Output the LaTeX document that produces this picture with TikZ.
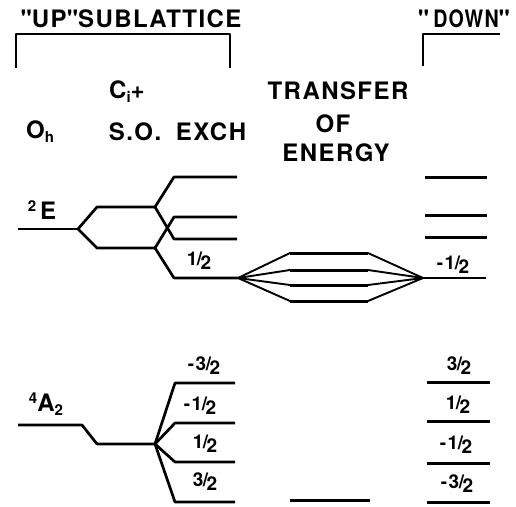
\documentclass[tikz,border=0pt]{standalone}
\usepackage{fontspec}
\setmainfont{TeX Gyre Heros}
\newcommand{\hf}[1]{#1\kern-0.5pt/\kern-1.5pt\raisebox{-4pt}{2}}
\newcommand{\lowx}[1]{\raisebox{-4pt}{\fontsize{15}{16}\selectfont #1}}
\newcommand{\highx}[1]{\raisebox{8pt}{\fontsize{15}{16}\selectfont #1}}
\begin{document}
\begin{tikzpicture}[x=1pt, y=-1pt,
    level/.style={line width=3pt},
    link/.style={line width=2.7pt, line join=round},
    fan/.style={line width=1.9pt, line join=round},
    lbl/.style={font=\bfseries\fontsize{24}{26}\selectfont\addfontfeature{LetterSpace=6}, inner sep=0pt},
    spin/.style={font=\bfseries\fontsize{19}{20}\selectfont\addfontfeature{LetterSpace=8}, inner sep=0pt}]
  \useasboundingbox (0,0) rectangle (516,506);
  % kopfzeilen
  \node[lbl] (up) at (131,19) {\textquotedbl UP\textquotedbl SUBLATTICE};
  \node[lbl] (down) at (464,19) {\textquotedbl\,\scalebox{0.82}[1]{DOWN}\textquotedbl};
  \draw[fan] (16,68) -- (16,34) -- (230,34) -- (230,68);
  \draw[fan] (423,66) -- (423,34) -- (500,34);
  \node[lbl] (ci) at (127,92) {C\lowx{i}+};
  \node[lbl] (oh) at (40,132) {O\lowx{h}};
  \node[lbl] (so) at (135,132) {S.O.};
  \node[lbl] (exch) at (211,132) {EXCH};
  \node[lbl] (tr) at (338,91) {TRANSFER};
  \node[lbl] (of) at (333,124) {OF};
  \node[lbl] (en) at (336,153) {ENERGY};
  % oberer zustand 2E
  \coordinate (e0) at (18,229);
  \coordinate (e1) at (78,229);
  \coordinate (a1) at (155,207);
  \coordinate (a2) at (155,248);
  \coordinate (t0) at (238,278);
  \coordinate (t1) at (423,278);
  \node[lbl] (lE) at (42,210) {\highx{2}\,E};
  \draw[link] (e0) -- (e1);
  \draw[link] (e1) -- (97,207) -- (a1);
  \draw[link] (e1) -- (97,248) -- (a2);
  \draw[link] (a1) -- (174,177) -- (237,177);
  \draw[link] (a1) -- (174,239) -- (237,239);
  \draw[link] (a2) -- (174,217) -- (237,217);
  \draw[link] (a2) -- (174,278) -- (t0);
  \node[spin] (h1) at (199,261) {\hf{1}};
  % energieuebertrag
  \foreach \y in {253,270,285,301} {
    \draw[fan] (t0) -- (290,\y) (368,\y) -- (t1);
    \draw[level] (290,\y) -- (368,\y);
  }
  \draw[link] (t1) -- (486,278);
  \node[spin] (h2) at (453,265) {\hf{-1}};
  \foreach \y in {177,215,237}
    \draw[level] (425,\y) -- (487,\y);
  % grundzustand 4A2
  \coordinate (g0) at (18,425);
  \coordinate (q) at (155,444);
  \node[lbl] (lA) at (46,404) {\highx{4}A\lowx{2}};
  \draw[link] (g0) -- (82,425) -- (97,444) -- (q);
  \foreach \y in {383,423,462,502}
    \draw[link] (q) -- (175,\y) -- (235,\y);
  \node[spin] (m3) at (204,366) {\hf{-3}};
  \node[spin] (m1) at (200,406) {\hf{-1}};
  \node[spin] (p1) at (205,444) {\hf{1}};
  \node[spin] (p3) at (205,482) {\hf{3}};
  % rechte seite
  \foreach \y in {382,421,463,502}
    \draw[level] (427,\y) -- (490,\y);
  \node[spin] (r3) at (459,366) {\hf{3}};
  \node[spin] (r1) at (458,405) {\hf{1}};
  \node[spin] (r2) at (456,445) {\hf{-1}};
  \node[spin] (r4) at (457,484) {\hf{-3}};
  \draw[level] (290,500) -- (370,500);
\end{tikzpicture}
\end{document}
